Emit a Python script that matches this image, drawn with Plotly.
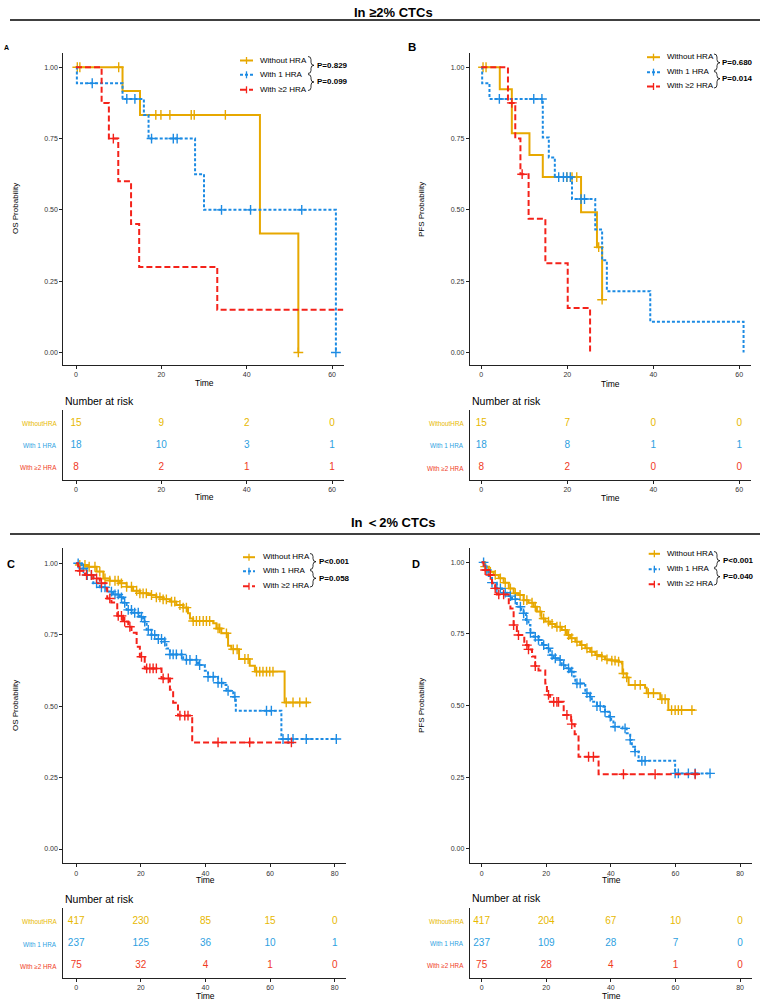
import plotly.graph_objects as go

W, H = 764, 1000
FONT = "Liberation Sans, Arial, sans-serif"
GOLD, BLUE, RED = "#E7A800", "#1C8BE3", "#F4221A"
GOLD_T, BLUE_T, RED_T = "#E7B800", "#2E9FDF", "#F03A1E"
COLORS = [GOLD, BLUE, RED]
TCOLORS = [GOLD_T, BLUE_T, RED_T]
DASHES = ["solid", "3px,2px", "6px,3px"]

groups = ["Without HRA", "With 1 HRA", "With ≥2 HRA"]
risk_labels = ["WithoutHRA", "With 1 HRA", "With ≥2 HRA"]

# ---------------- Panel A : OS, >=2% CTCs ----------------
a_gold_t = [0, 10.9, 15.0, 43.1, 52.1]
a_gold_s = [1, 0.917, 0.833, 0.417, 0.0]
a_gold_c = [0.3, 0.9, 10.0, 18.7, 19.9, 22.0, 27.0, 27.7, 35.0, 52.1]
a_blue_t = [0, 0.2, 10.9, 15.9, 17.0, 27.9, 30.0, 60.9]
a_blue_s = [1, 0.944, 0.889, 0.833, 0.75, 0.625, 0.5, 0.0]
a_blue_c = [3.8, 11.9, 13.8, 17.7, 22.8, 23.7, 34.1, 40.9, 52.9, 60.9]
a_red_t = [0, 6.0, 7.7, 9.9, 12.9, 14.8, 33.1, 62.6]
a_red_s = [1, 0.875, 0.75, 0.6, 0.45, 0.3, 0.15, 0.15]
a_red_c = [8.75]

# ---------------- Panel B : PFS, >=2% CTCs ----------------
b_gold_t = [0, 4.3, 7.1, 11.2, 14.3, 23.2, 26.9, 28.1]
b_gold_s = [1, 0.923, 0.769, 0.692, 0.615, 0.492, 0.369, 0.185]
b_gold_c = [0.4, 1.1, 19.9, 21.1, 22.2, 27.3, 28.1]
b_blue_t = [0, 0.2, 1.9, 14.3, 15.7, 17.1, 21.1, 26.5, 28.1, 29.2, 39.3, 61.0]
b_blue_s = [1, 0.944, 0.889, 0.754, 0.684, 0.615, 0.538, 0.431, 0.323, 0.215, 0.108, 0.0]
b_blue_c = [4.2, 12.2, 14.1, 18.0, 19.1, 19.9, 20.7, 23.2, 24.0]
b_red_t = [0, 6.2, 7.9, 9.1, 11.0, 14.9, 20.1, 25.3]
b_red_s = [1, 0.875, 0.75, 0.625, 0.469, 0.313, 0.156, 0.0]
b_red_c = [7.1, 9.5]

# ---------------- Panel C : OS, <2% CTCs ----------------
c_gold_t = [0, 0.9, 3.7, 6.3, 8.4, 10.4, 13.5, 15.6, 17.6, 19.7, 22.3, 24.8, 26.9, 29.0, 31.0,
            33.1, 34.6, 35.2, 36.2, 42.4, 43.4, 44.9, 47.0, 48.0, 50.4, 53.7, 55.3, 64.5, 72.1]
c_gold_s = [1, 0.994, 0.988, 0.971, 0.947, 0.939, 0.93, 0.918, 0.904, 0.895, 0.889, 0.881, 0.874,
            0.866, 0.854, 0.845, 0.825, 0.807, 0.798, 0.79, 0.772, 0.755, 0.711, 0.699, 0.665,
            0.641, 0.621, 0.513, 0.513]
c_gold_c = [1.1, 2.7, 4.0, 5.8, 7.3, 8.9, 10.4, 12.0, 13.0, 14.0, 15.6, 17.1, 18.7, 19.7, 20.7,
            21.7, 23.3, 24.8, 25.9, 26.9, 27.9, 29.5, 30.5, 32.1, 33.1, 34.1, 36.2, 37.2, 38.2,
            39.3, 40.3, 41.3, 43.9, 44.4, 46.5, 48.6, 49.8, 52.2, 53.2, 55.8, 56.8, 57.8, 58.9,
            59.9, 60.9, 65.0, 67.1, 69.2, 71.2]
c_blue_t = [0, 1.6, 3.2, 5.3, 7.3, 9.4, 11.4, 13.5, 14.5, 15.6, 17.6, 19.7, 20.7, 21.8, 23.3,
            24.8, 26.9, 27.9, 29.0, 33.1, 37.7, 39.8, 40.8, 43.9, 45.5, 46.5, 48.6, 49.4, 63.5, 80.5]
c_blue_s = [1, 0.982, 0.959, 0.93, 0.916, 0.901, 0.891, 0.881, 0.862, 0.837, 0.827, 0.813, 0.796,
            0.767, 0.749, 0.735, 0.726, 0.702, 0.681, 0.662, 0.644, 0.624, 0.603, 0.582, 0.574,
            0.554, 0.533, 0.484, 0.385, 0.385]
c_blue_c = [0.6, 2.2, 3.4, 4.7, 6.3, 7.8, 8.9, 10.9, 12.0, 13.0, 14.0, 15.0, 16.1, 17.1, 18.1,
            19.2, 20.2, 21.2, 22.3, 23.3, 24.3, 25.4, 26.4, 27.4, 29.0, 30.0, 31.0, 32.6, 34.1,
            35.2, 37.2, 38.2, 40.8, 42.4, 43.9, 45.0, 47.0, 49.1, 58.9, 60.4, 64.0, 65.6, 67.1,
            71.2, 80.5]
c_red_t = [0, 0.6, 2.7, 5.3, 7.3, 9.4, 9.6, 10.9, 12.7, 14.5, 16.1, 17.1, 18.7, 19.7, 21.2,
           26.4, 29.0, 30.0, 31.5, 35.9, 66.6]
c_red_s = [1, 0.974, 0.959, 0.947, 0.93, 0.912, 0.877, 0.863, 0.816, 0.796, 0.778, 0.757, 0.708,
           0.673, 0.632, 0.597, 0.557, 0.512, 0.467, 0.373, 0.373]
c_red_c = [1.1, 3.2, 4.7, 6.3, 7.8, 10.4, 13.0, 14.0, 15.0, 16.6, 20.2, 21.8, 22.8, 23.8, 24.8,
           26.9, 28.5, 32.1, 33.6, 34.6, 43.9, 53.7, 66.6]

# ---------------- Panel D : PFS, <2% CTCs ----------------
d_gold_t = [0, 1.1, 2.2, 3.7, 5.3, 6.8, 8.4, 9.9, 11.4, 13.0, 14.5, 16.1, 17.1, 18.5, 19.7, 21.2,
            22.8, 24.8, 26.4, 27.4, 29.0, 30.5, 32.1, 33.6, 35.2, 37.2, 38.2, 40.3, 42.4, 43.4,
            43.6, 44.9, 45.5, 50.6, 51.1, 55.3, 57.8, 66.1]
d_gold_s = [1, 0.985, 0.967, 0.956, 0.944, 0.929, 0.909, 0.892, 0.886, 0.868, 0.859, 0.845, 0.828,
            0.804, 0.793, 0.785, 0.775, 0.764, 0.746, 0.735, 0.723, 0.711, 0.700, 0.688, 0.676,
            0.671, 0.661, 0.657, 0.653, 0.647, 0.612, 0.598, 0.572, 0.562, 0.543, 0.522, 0.484,
            0.484]
d_gold_c = [1.1, 2.7, 4.2, 5.8, 7.3, 8.9, 10.4, 11.9, 13.0, 14.0, 15.6, 16.6, 18.1, 19.2, 20.7,
            21.8, 23.3, 24.3, 25.9, 26.9, 27.9, 29.5, 31.0, 32.6, 34.1, 35.7, 37.2, 38.8, 40.3,
            41.3, 42.4, 43.9, 44.9, 47.5, 49.1, 51.6, 53.2, 55.8, 56.8, 58.8, 59.9, 60.9, 61.9,
            65.1]
d_blue_t = [0, 1.1, 2.2, 3.2, 4.7, 6.3, 7.8, 9.4, 10.9, 12.3, 13.0, 13.7, 14.5, 15.1, 16.1, 17.6,
            18.7, 20.2, 21.2, 22.3, 23.8, 24.8, 25.9, 27.4, 28.5, 29.0, 31.5, 32.1, 33.6, 34.1,
            35.7, 37.7, 38.2, 39.5, 40.1, 40.8, 43.6, 44.9, 46.0, 46.5, 47.5, 48.6, 59.9, 71.0]
d_blue_s = [1, 0.973, 0.952, 0.929, 0.909, 0.894, 0.882, 0.871, 0.845, 0.834, 0.822, 0.799, 0.781,
            0.754, 0.740, 0.729, 0.711, 0.700, 0.676, 0.665, 0.659, 0.641, 0.630, 0.618, 0.601,
            0.577, 0.572, 0.543, 0.531, 0.513, 0.498, 0.496, 0.478, 0.461, 0.444, 0.426, 0.420,
            0.403, 0.380, 0.356, 0.339, 0.307, 0.263, 0.263]
d_blue_c = [0.6, 1.6, 3.2, 4.7, 5.8, 7.3, 8.9, 10.4, 12.0, 13.0, 14.0, 15.1, 16.6, 17.6, 19.2,
            20.7, 21.8, 22.8, 24.3, 25.4, 26.9, 27.9, 29.5, 30.5, 32.6, 33.6, 35.7, 36.7, 38.2,
            39.8, 41.3, 44.4, 46.0, 47.5, 49.6, 50.6, 59.9, 60.9, 64.0, 66.1, 70.7]
d_red_t = [0, 0.6, 2.2, 3.2, 4.2, 4.7, 8.4, 8.9, 9.9, 10.9, 13.2, 14.5, 15.6, 16.6, 17.6, 19.7,
           20.2, 21.2, 25.4, 27.7, 28.8, 30.0, 36.2, 67.1]
d_red_s = [1, 0.973, 0.956, 0.927, 0.909, 0.888, 0.851, 0.839, 0.781, 0.746, 0.711, 0.696, 0.671,
           0.638, 0.622, 0.577, 0.537, 0.513, 0.467, 0.435, 0.400, 0.321, 0.260, 0.260]
d_red_c = [1.1, 2.7, 4.2, 5.3, 6.8, 9.9, 11.4, 14.0, 14.5, 16.6, 20.7, 22.3, 23.3, 23.8, 26.4,
           27.9, 33.1, 34.6, 43.9, 53.7, 66.1]

# ---------------- Risk tables ----------------
risk_times_ab = [0, 20, 40, 60]
risk_times_cd = [0, 20, 40, 60, 80]
risk_a = [[15, 9, 2, 0], [18, 10, 3, 1], [8, 2, 1, 1]]
risk_b = [[15, 7, 0, 0], [18, 8, 1, 1], [8, 2, 0, 0]]
risk_c = [[417, 230, 85, 15, 0], [237, 125, 36, 10, 1], [75, 32, 4, 1, 0]]
risk_d = [[417, 204, 67, 10, 0], [237, 109, 28, 7, 0], [75, 28, 4, 1, 0]]

p_values = {"A": ["P=0.829", "P=0.099"], "B": ["P=0.680", "P=0.014"],
            "C": ["P<0.001", "P=0.058"], "D": ["P<0.001", "P=0.040"]}


def surv_at(ts, ss, t):
    val = ss[0]
    for ti, si in zip(ts, ss):
        if ti <= t:
            val = si
    return val


def px(x):
    return x / W


def py(y):
    return 1 - y / H


def dom_x(a, b):
    return [a / W, b / W]


def dom_y(top, bottom):
    return [1 - bottom / H, 1 - top / H]


fig = go.Figure()

AX = dict(showline=True, linecolor="#222", linewidth=1, ticks="outside", ticklen=3, tickwidth=1,
          tickcolor="#222", tickfont=dict(size=7, color="#333", family=FONT), showgrid=False,
          zeroline=False, fixedrange=True)

layout_axes = {}


def add_axes(n, xdom, ydom, xrange, yrange, xticks, main=True):
    xa = dict(AX, domain=xdom, range=xrange, tickvals=xticks, anchor="y%d" % n)
    if main:
        ya = dict(AX, domain=ydom, range=yrange, tickvals=[0, 0.25, 0.5, 0.75, 1],
                  ticktext=["0.00", "0.25", "0.50", "0.75", "1.00"], anchor="x%d" % n)
    else:
        ya = dict(AX, domain=ydom, range=yrange, showticklabels=False, ticks="", anchor="x%d" % n)
    layout_axes["xaxis" if n == 1 else "xaxis%d" % n] = xa
    layout_axes["yaxis" if n == 1 else "yaxis%d" % n] = ya


# main panels
add_axes(1, dom_x(63.3, 344), dom_y(53.3, 365), [-2.98, 62.8], [-0.044, 1.049], risk_times_ab)
add_axes(2, dom_x(469.7, 751.3), dom_y(53.3, 365), [-2.7, 62.8], [-0.044, 1.049], risk_times_ab)
add_axes(3, dom_x(63.3, 344), dom_y(410, 480), [-2.98, 62.8], [0.43, 3.6], risk_times_ab, main=False)
add_axes(4, dom_x(469.7, 751.3), dom_y(410, 480), [-2.7, 62.8], [0.43, 3.6], risk_times_ab, main=False)
add_axes(5, dom_x(63.3, 346), dom_y(548.3, 863.3), [-4.0, 83.5], [-0.05, 1.0525], risk_times_cd)
add_axes(6, dom_x(469.7, 752), dom_y(548.3, 863.3), [-3.7, 83.7], [-0.051, 1.049], risk_times_cd)
add_axes(7, dom_x(63.3, 346), dom_y(908, 977.7), [-4.0, 83.5], [0.47, 3.62], risk_times_cd, main=False)
add_axes(8, dom_x(469.7, 752), dom_y(908, 977.7), [-3.7, 83.7], [0.47, 3.62], risk_times_cd, main=False)


def add_km(n, curves):
    xr = "x" if n == 1 else "x%d" % n
    yr = "y" if n == 1 else "y%d" % n
    for i, (ts, ss, cs) in enumerate(curves):
        fig.add_trace(go.Scatter(x=ts, y=ss, mode="lines", line=dict(color=COLORS[i], width=2,
                                 dash=DASHES[i], shape="hv"), xaxis=xr, yaxis=yr,
                                 name=groups[i], showlegend=False, hoverinfo="skip"))
        fig.add_trace(go.Scatter(x=cs, y=[surv_at(ts, ss, c) for c in cs], mode="markers",
                                 marker=dict(symbol="cross-thin", size=7, color=COLORS[i],
                                             line=dict(color=COLORS[i], width=1.4)),
                                 xaxis=xr, yaxis=yr, showlegend=False, hoverinfo="skip"))


add_km(1, [(a_gold_t, a_gold_s, a_gold_c), (a_blue_t, a_blue_s, a_blue_c), (a_red_t, a_red_s, a_red_c)])
add_km(2, [(b_gold_t, b_gold_s, b_gold_c), (b_blue_t, b_blue_s, b_blue_c), (b_red_t, b_red_s, b_red_c)])
add_km(5, [(c_gold_t, c_gold_s, c_gold_c), (c_blue_t, c_blue_s, c_blue_c), (c_red_t, c_red_s, c_red_c)])
add_km(6, [(d_gold_t, d_gold_s, d_gold_c), (d_blue_t, d_blue_s, d_blue_c), (d_red_t, d_red_s, d_red_c)])


def add_risk(n, times, table):
    for i, row in enumerate(table):
        fig.add_trace(go.Scatter(x=times, y=[3 - i] * len(times), mode="text",
                                 text=[str(v) for v in row],
                                 textfont=dict(size=10, color=TCOLORS[i], family=FONT),
                                 textposition="middle center", xaxis="x%d" % n, yaxis="y%d" % n,
                                 showlegend=False, hoverinfo="skip", cliponaxis=False))


add_risk(3, risk_times_ab, risk_a)
add_risk(4, risk_times_ab, risk_b)
add_risk(7, risk_times_cd, risk_c)
add_risk(8, risk_times_cd, risk_d)

annotations = []
shapes = []


def ann(x, y, text, size, color="#000", xanchor="center", yanchor="middle", angle=0):
    annotations.append(dict(x=px(x), y=py(y), xref="paper", yref="paper", text=text,
                            showarrow=False, xanchor=xanchor, yanchor=yanchor, textangle=angle,
                            font=dict(size=size, color=color, family=FONT)))


def hline(x0, x1, y, width=1.5, color="#000", dash="solid"):
    shapes.append(dict(type="line", xref="paper", yref="paper", x0=px(x0), x1=px(x1),
                       y0=py(y), y1=py(y), line=dict(color=color, width=width, dash=dash)))


def vline(x, y0, y1, width=1.3, color="#000"):
    shapes.append(dict(type="line", xref="paper", yref="paper", x0=px(x), x1=px(x),
                       y0=py(y0), y1=py(y1), line=dict(color=color, width=width)))


def brace(x, y1, ym, y2):
    def P(a, b):
        return "%.5f,%.5f" % (px(a), py(b))
    path = ("M " + P(x, y1) + " Q " + P(x + 3, y1) + " " + P(x + 3, y1 + 3) +
            " L " + P(x + 3, ym - 3) + " Q " + P(x + 3, ym) + " " + P(x + 6, ym) +
            " Q " + P(x + 3, ym) + " " + P(x + 3, ym + 3) +
            " L " + P(x + 3, y2 - 3) + " Q " + P(x + 3, y2) + " " + P(x, y2))
    shapes.append(dict(type="path", xref="paper", yref="paper", path=path,
                       line=dict(color="#000", width=0.8)))


# section titles
ann(394, 12, "<b>In ≥2% CTCs</b>", 13)
hline(10, 760, 20, 1.5)
ann(394, 522.7, "<b>In ＜2% CTCs</b>", 13)
hline(10, 760, 534, 1.5)

# panel letters
ann(7, 47, "<b>A</b>", 7)
ann(412, 47.5, "<b>B</b>", 11.5)
ann(11, 563.5, "<b>C</b>", 11)
ann(416, 563.5, "<b>D</b>", 11)

# y titles
ann(16, 209, "OS Probability", 8, angle=-90)
ann(422, 210, "PFS Probability", 8, angle=-90)
ann(15, 706, "OS Probability", 8, angle=-90)
ann(421, 706, "PFS Probability", 8, angle=-90)

# time titles
ann(204, 383.5, "Time", 8.5)
ann(610.5, 384, "Time", 8.5)
ann(204, 497, "Time", 8.5)
ann(610.5, 498, "Time", 8.5)
ann(205, 880, "Time", 8.5)
ann(611, 880, "Time", 8.5)
ann(205, 995.5, "Time", 8.5)
ann(611, 995.5, "Time", 8.5)

# number at risk titles and row labels
for (xl, yt, rows_y) in [(63, 401, [423.3, 446, 467.3]), (469.5, 401.5, [423.5, 446, 468]),
                         (63, 898.7, [921.7, 944, 966]), (469.5, 897.5, [921, 943.5, 965.5])]:
    ann(xl, yt, "Number at risk", 10.5, xanchor="left")
    for i, lab in enumerate(risk_labels):
        ann(xl - 4, rows_y[i], lab, 6.3, color=TCOLORS[i], xanchor="right")

# legends with braces
legend_specs = [
    ("A", 240, 253, 258, [60, 74.3, 89.3], 308, [(56.5, 65.3, 73.5), (74.5, 82, 90.5)], 315),
    ("B", 647, 660, 664.7, [56.7, 71.7, 86], 714, [(54, 62.7, 70.5), (71.5, 78.7, 88)], 720),
    ("C", 243, 255, 260.7, [556.7, 570.7, 585.7], 310, [(553.5, 561.7, 569.5), (570.5, 578.3, 587)], 316.7),
    ("D", 648.7, 660, 665.3, [553.3, 568.7, 583.7], 714, [(551.5, 560.7, 567.5), (568.5, 576.7, 585)], 721),
]
for key, lx0, lx1, tx, ys, bx, brs, ptx in legend_specs:
    for i in range(3):
        hline(lx0, lx1, ys[i] + 0.5, 2, COLORS[i], DASHES[i])
        vline((lx0 + lx1) / 2, ys[i] - 3, ys[i] + 4, 1.3, COLORS[i])
        ann(tx, ys[i], groups[i], 8, xanchor="left")
    for j, (y1, ym, y2) in enumerate(brs):
        brace(bx, y1, ym, y2)
        ann(ptx, ym, "<b>%s</b>" % p_values[key][j], 8, xanchor="left")

fig.update_layout(width=W, height=H, autosize=False, margin=dict(l=0, r=0, t=0, b=0),
                  plot_bgcolor="white", paper_bgcolor="white", showlegend=False,
                  font=dict(family=FONT), annotations=annotations, shapes=shapes, **layout_axes)

fig.write_html("out.html")
